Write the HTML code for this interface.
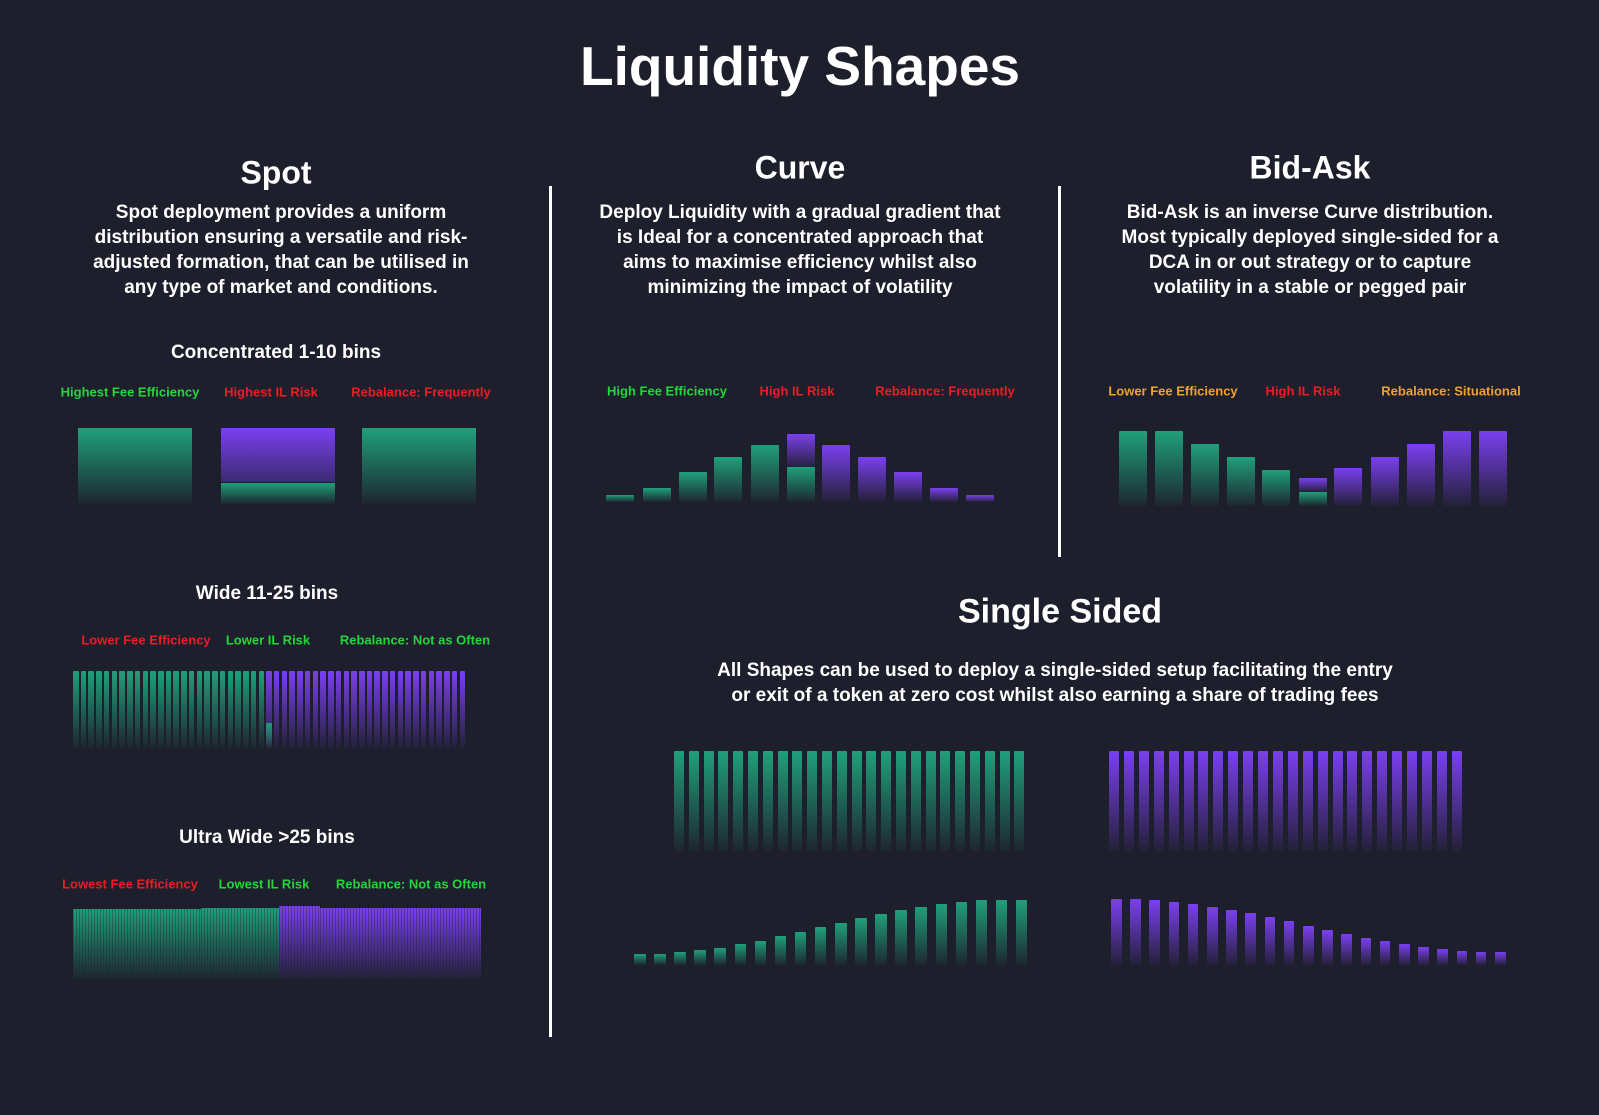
<!DOCTYPE html>
<html><head><meta charset="utf-8"><style>
body{margin:0;width:1599px;height:1115px;background:#1e1f2c;position:relative;overflow:hidden;font-family:"Liberation Sans",sans-serif;font-weight:bold;color:#fff}
.t{position:absolute;white-space:nowrap;transform:translate(-50%,-50%);text-align:center}
.d{position:absolute;transform:translateX(-50%);text-align:center;font-size:19px;line-height:25px;white-space:nowrap}
.l{position:absolute;white-space:nowrap;transform:translate(-50%,-50%);font-size:13px}
.g{color:#22d63a}.r{color:#ec1c24}.o{color:#f0a030}
.b{position:absolute}
.bg{background:linear-gradient(to bottom,#1fa07a,rgba(31,160,122,0.05))}
.bp{background:linear-gradient(to bottom,#7b3ff0,rgba(123,63,240,0.06))}
.vl{position:absolute;width:3px;background:#fff}
</style></head><body>
<div class="t" style="left:800px;top:66px;font-size:55px">Liquidity Shapes</div>
<div class="vl" style="left:549px;top:186px;height:851px"></div>
<div class="vl" style="left:1058px;top:186px;height:371px"></div>

<div class="t" style="left:276px;top:173px;font-size:32px">Spot</div>
<div class="d" style="left:281px;top:200px">Spot deployment provides a uniform<br>distribution ensuring a versatile and risk-<br>adjusted formation, that can be utilised in<br>any type of market and conditions.</div>
<div class="t" style="left:800px;top:168px;font-size:32px">Curve</div>
<div class="d" style="left:800px;top:200px">Deploy Liquidity with a gradual gradient that<br>is Ideal for a concentrated approach that<br>aims to maximise efficiency whilst also<br>minimizing the impact of volatility</div>
<div class="t" style="left:1310px;top:168px;font-size:32px">Bid-Ask</div>
<div class="d" style="left:1310px;top:200px">Bid-Ask is an inverse Curve distribution.<br>Most typically deployed single-sided for a<br>DCA in or out strategy or to capture<br>volatility in a stable or pegged pair</div>

<div class="t" style="left:276px;top:353px;font-size:19px">Concentrated 1-10 bins</div>
<div class="l g" style="left:130px;top:392px">Highest Fee Efficiency</div>
<div class="l r" style="left:271px;top:392px">Highest IL Risk</div>
<div class="l r" style="left:421px;top:392px">Rebalance: Frequently</div>
<div class="b bg" style="left:78px;top:428px;width:114px;height:76px"></div>
<div class="b bp" style="left:221px;top:428px;width:114px;height:54px;background:linear-gradient(#7b3ff0,#3c2a70)"></div>
<div class="b bg" style="left:221px;top:483px;width:114px;height:21px"></div>
<div class="b bg" style="left:362px;top:428px;width:114px;height:76px"></div>

<div class="t" style="left:267px;top:594px;font-size:19px">Wide 11-25 bins</div>
<div class="l r" style="left:146px;top:640px">Lower Fee Efficiency</div>
<div class="l g" style="left:268px;top:640px">Lower IL Risk</div>
<div class="l g" style="left:415px;top:640px">Rebalance: Not as Often</div>

<div class="t" style="left:267px;top:838px;font-size:19px">Ultra Wide &gt;25 bins</div>
<div class="l r" style="left:130px;top:884px">Lowest Fee Efficiency</div>
<div class="l g" style="left:264px;top:884px">Lowest IL Risk</div>
<div class="l g" style="left:411px;top:884px">Rebalance: Not as Often</div>
<div class="b" style="left:73px;top:909px;width:128px;height:70px;background:repeating-linear-gradient(to right,rgba(30,31,44,.35) 0 1px,transparent 1px 3px),linear-gradient(#1fa07a,rgba(31,160,122,.05))"></div>
<div class="b" style="left:201px;top:908px;width:78px;height:71px;background:repeating-linear-gradient(to right,rgba(30,31,44,.35) 0 1px,transparent 1px 3px),linear-gradient(#1fa07a,rgba(31,160,122,.05))"></div>
<div class="b" style="left:279px;top:906px;width:41px;height:73px;background:repeating-linear-gradient(to right,rgba(30,31,44,.35) 0 1px,transparent 1px 3px),linear-gradient(#7b3ff0,rgba(123,63,240,.06))"></div>
<div class="b" style="left:320px;top:908px;width:161px;height:71px;background:repeating-linear-gradient(to right,rgba(30,31,44,.35) 0 1px,transparent 1px 3px),linear-gradient(#7b3ff0,rgba(123,63,240,.06))"></div>

<div class="l g" style="left:667px;top:391px">High Fee Efficiency</div>
<div class="l r" style="left:797px;top:391px">High IL Risk</div>
<div class="l r" style="left:945px;top:391px">Rebalance: Frequently</div>
<div class="l o" style="left:1173px;top:391px">Lower Fee Efficiency</div>
<div class="l r" style="left:1303px;top:391px">High IL Risk</div>
<div class="l o" style="left:1451px;top:391px">Rebalance: Situational</div>

<div class="t" style="left:1060px;top:612px;font-size:34px">Single Sided</div>
<div class="d" style="left:1055px;top:658px">All Shapes can be used to deploy a single-sided setup facilitating the entry<br>or exit of a token at zero cost whilst also earning a share of trading fees</div>

<div id="c"></div>
<script>
var c=document.getElementById('c'),h='';
function bar(x,y,w,hh,cls){h+='<div class="b '+cls+'" style="left:'+x+'px;top:'+y+'px;width:'+w+'px;height:'+hh+'px;border-radius:1px"></div>';}
for(var i=0;i<51;i++){var x=73+i*7.73;bar(x,671,5.5,77,i<25?'bg':'bp');}
bar(73+25*7.73,723,5.5,25,'bg');
var cx=[606,643,679,714,751,787,822,858,894,930,966],ct=[495,488,472,457,445,434,445,457,472,488,495];
for(var i=0;i<11;i++){if(i==5){bar(cx[i],434,28,34,'bp');bar(cx[i],467,28,35,'bg');}else bar(cx[i],ct[i],28,502-ct[i],i<5?'bg':'bp');}
var bx=[1119,1155,1191,1227,1262,1299,1334,1371,1407,1443,1479],bt=[431,431,444,457,470,478,468,457,444,431,431];
for(var i=0;i<11;i++){if(i==5){bar(bx[i],478,28,14,'bp');bar(bx[i],492,28,14,'bg');}else bar(bx[i],bt[i],28,506-bt[i],i<5?'bg':'bp');}
for(var i=0;i<24;i++){bar(674+i*14.8,751,10,100,'bg');bar(1109+i*14.9,751,10,100,'bp');}
for(var i=0;i<20;i++){var f=i/19;var t=954-54*(0.5-0.5*Math.cos(Math.PI*Math.min(1,f*1.05)));bar(634+i*20.1,t,11.5,965-t,'bg');}
for(var i=0;i<21;i++){var f=i/20;var t=899+53*(0.5-0.5*Math.cos(Math.PI*f));bar(1111+i*19.2,t,10.5,965-t,'bp');}
c.innerHTML=h;
</script>
</body></html>
